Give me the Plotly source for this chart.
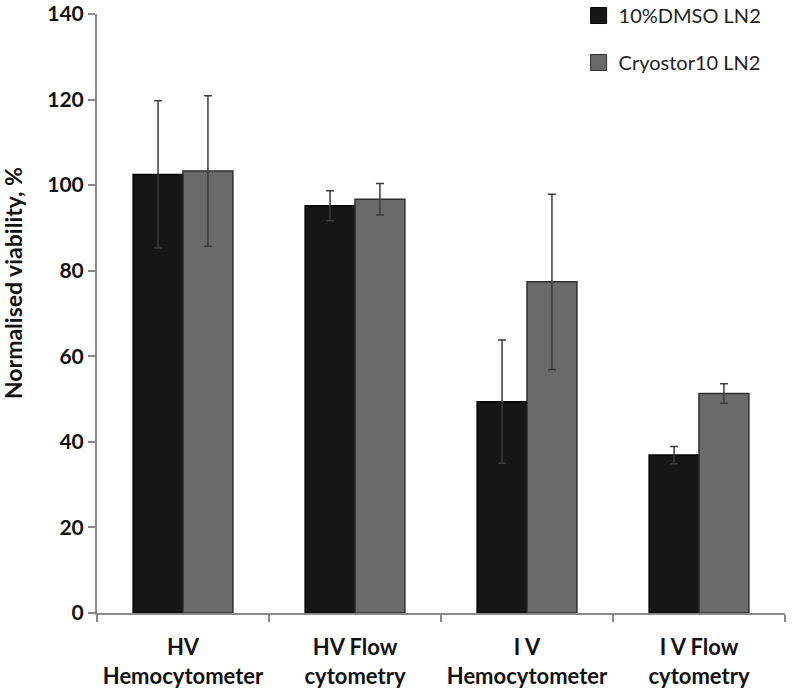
import plotly.graph_objects as go

categories = ["HV<br>Hemocytometer", "HV Flow<br>cytometry", "I V<br>Hemocytometer", "I V Flow<br>cytometry"]
series_names = ["10%DMSO LN2", "Cryostor10 LN2"]
dmso_values = [102.5, 95.2, 49.4, 36.9]
dmso_errors = [17.2, 3.5, 14.4, 2.0]
cryo_values = [103.3, 96.7, 77.4, 51.3]
cryo_errors = [17.6, 3.7, 20.5, 2.3]
y_ticks = [0, 20, 40, 60, 80, 100, 120, 140]
y_title = "Normalised viability, %"

FONT = "Lato"
fills = ["#161616", "#6a6a6a"]
edges = ["#050505", "#2e2e2e"]

fig = go.Figure()
for name, vals, errs, fill, edge in zip(series_names, [dmso_values, cryo_values],
                                        [dmso_errors, cryo_errors], fills, edges):
    fig.add_trace(go.Bar(
        name=name, x=categories, y=vals, showlegend=False,
        marker=dict(color=fill, line=dict(color=edge, width=1.5)),
        error_y=dict(type="data", array=errs, visible=True, color="#3c3c3c", thickness=1.5, width=4),
    ))
# legend entries with larger square keys
for i, (name, fill, edge) in enumerate(zip(series_names, fills, edges)):
    fig.add_trace(go.Scatter(
        name=name, x=[None], y=[None], mode="markers", legendgroup=f"g{i}",
        marker=dict(symbol="square", size=16, color=fill, line=dict(color=edge, width=1)),
    ))

fig.add_annotation(
    text=y_title, textangle=-90, xref="paper", yref="paper",
    x=-0.122, y=0.551, xanchor="center", yanchor="middle", showarrow=False,
    font=dict(family=FONT, size=23, color="#111111", weight="bold"),
)

fig.update_layout(
    width=792, height=692,
    margin=dict(l=97, r=7, t=14, b=79, autoexpand=False),
    paper_bgcolor="white", plot_bgcolor="white",
    barmode="group", bargap=0.42, bargroupgap=0.0,
    font=dict(family=FONT, color="#111111"),
    showlegend=True,
    legend=dict(x=0.70, y=1.030, xanchor="left", yanchor="top",
                font=dict(family=FONT, size=20, color="#222222"),
                tracegroupgap=18, itemwidth=30, bgcolor="rgba(0,0,0,0)"),
    yaxis=dict(range=[0, 140], tickvals=y_ticks, showgrid=False,
               showline=True, linecolor="#8a8a8a", linewidth=2,
               ticks="outside", ticklen=7, tickcolor="#8a8a8a", tickwidth=2,
               ticklabeloverflow="allow",
               tickfont=dict(family=FONT, size=21, color="#111111", weight="bold"),
               zeroline=False, automargin=False),
    xaxis=dict(showgrid=False, showline=True, linecolor="#8a8a8a", linewidth=2,
               ticks="outside", ticklen=7, tickcolor="#8a8a8a", tickwidth=2,
               tickson="boundaries", automargin=False, ticklabelstandoff=14,
               tickfont=dict(family=FONT, size=22, color="#111111", weight="bold")),
)

# remove the default 8px page margin so the 792x692 figure fills the window
fig.write_html("out.html", config={"displayModeBar": False},
               post_script="document.body.style.margin='0';")
